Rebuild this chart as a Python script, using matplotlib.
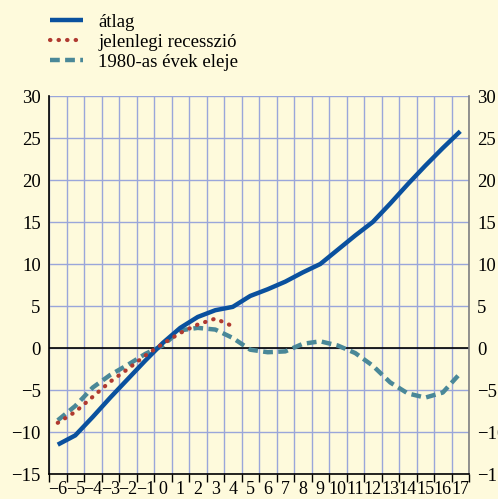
import numpy as np
import matplotlib.pyplot as plt
from matplotlib import font_manager

# negyedévek a recesszió kezdetétől
quarters = list(range(-6, 18))

atlag = [-11.5, -10.4, -8.2, -5.9, -3.7, -1.5, 0.6, 2.4, 3.7, 4.5, 4.9, 6.2,
         7.0, 7.9, 9.0, 10.0, 11.7, 13.4, 15.0, 17.2, 19.5, 21.7, 23.8, 25.8]
jelenlegi = [-8.9, -7.6, -5.8, -4.0, -2.5, -0.9, 0.5, 1.8, 2.8, 3.5, 2.6]
eleje_1980 = [-8.6, -6.9, -4.7, -3.2, -2.0, -0.7, 0.3, 2.1, 2.4, 2.2, 1.2, -0.2,
              -0.5, -0.4, 0.5, 0.8, 0.3, -0.6, -2.1, -4.1, -5.4, -5.9, -5.3, -3.0]

yticks = [-15, -10, -5, 0, 5, 10, 15, 20, 25, 30]

bg = '#fefadc'
grid_col = '#9aa6da'

installed = {f.name for f in font_manager.fontManager.ttflist}
serif = [f for f in ['Liberation Serif', 'Tinos', 'Times New Roman', 'DejaVu Serif'] if f in installed]
plt.rcParams['font.family'] = serif + ['DejaVu Sans']

fig = plt.figure(figsize=(4.98, 4.99), dpi=100, facecolor=bg)
ax = fig.add_axes([0.0984, 0.05, 0.8434, 0.7576], facecolor=bg)

n = len(quarters)
xs = np.arange(n) + 0.5

ax.plot(xs, atlag, color='#0a519e', lw=3.2, solid_capstyle='butt', label='átlag', zorder=4)
ax.plot(xs[:len(jelenlegi)], jelenlegi, color='#b03a30', lw=3.0,
        linestyle=(0, (0.1, 1.95)), dash_capstyle='round', label='jelenlegi recesszió', zorder=5)
ax.plot(xs, eleje_1980, color='#4a8898', lw=3.2, linestyle=(0, (2.2, 1.2)),
        label='1980-as évek eleje', zorder=3)

ax.axhline(0, color='black', lw=1.2, zorder=2)

ax.set_xlim(0, n)
ax.set_ylim(-15, 30)
ax.set_xticks(np.arange(n + 1))
ax.set_xticklabels([])
ax.set_xticks(xs, minor=True)
ax.set_xticklabels(['\u2212%d' % -q if q < 0 else str(q) for q in quarters], minor=True)
ax.tick_params(axis='x', which='major', length=6, width=1, direction='out', color='black')
ax.tick_params(axis='x', which='minor', length=0, labelsize=13, pad=5)

ax.set_yticks(yticks)
ax.set_yticklabels(['\u2212%d' % -v if v < 0 else str(v) for v in yticks])
ax.tick_params(axis='y', length=0, labelsize=13.5, pad=6, labelright=True)

ax.grid(True, which='major', color=grid_col, lw=1.0)
ax.set_axisbelow(True)

ax.spines['top'].set_visible(False)
ax.spines['left'].set_color('black')
ax.spines['bottom'].set_color('black')
ax.spines['right'].set_color('#808080')
for s in ax.spines.values():
    s.set_linewidth(1.2)

fig.legend(loc='upper left', bbox_to_anchor=(0.066, 1.006), frameon=False,
           fontsize=13.5, handlelength=1.8, handletextpad=0.8, labelspacing=0.15)

fig.savefig('out.png', dpi=100, facecolor=bg)
